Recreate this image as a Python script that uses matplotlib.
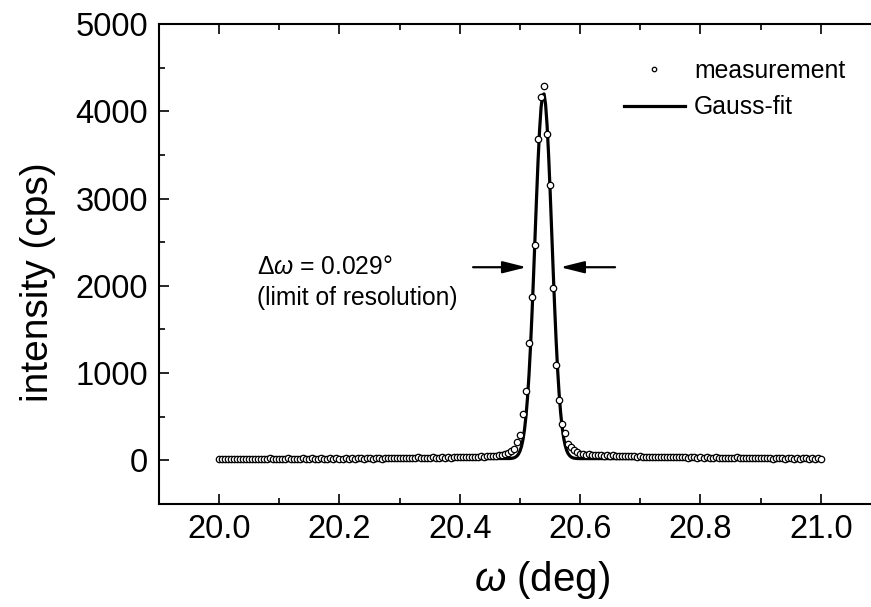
import numpy as np
import matplotlib
matplotlib.use("Agg")
import matplotlib.pyplot as plt
from matplotlib.lines import Line2D

plt.rcParams['font.family'] = ['Liberation Sans', 'DejaVu Sans']
plt.rcParams['mathtext.fontset'] = 'custom'
plt.rcParams['mathtext.rm'] = 'Liberation Sans'
plt.rcParams['mathtext.it'] = 'Liberation Sans:italic'

# ---------------- data ----------------
omega_start, omega_step = 20.0, 0.005
intensity = [
    12, 18, 10, 15, 20, 13, 17, 11, 19, 14, 16, 21, 12, 18, 15, 10, 17, 22, 14, 19,
    16, 20, 13, 24, 18, 15, 21, 17, 25, 14, 19, 23, 16, 20, 26, 18, 15, 22, 19, 24,
    21, 17, 27, 20, 23, 18, 28, 22, 19, 25, 30, 21, 24, 27, 20, 26, 23, 29, 22, 25,
    28, 24, 31, 26, 22, 29, 33, 25, 27, 32, 28, 35, 26, 30, 34, 29, 36, 31, 33, 38,
    34, 38, 33, 41, 36, 44, 39, 47, 42, 50, 46, 55, 52, 60, 66, 74, 82,
    110, 130, 210, 295, 527, 791, 1350, 1873, 2466, 3681, 4166, 4292, 3739, 3154,
    1980, 1097, 688, 421, 318, 191, 153, 115, 92,
    78, 70, 64, 72, 60, 66, 58, 62, 55, 60, 52, 57, 50, 54, 48, 52, 45, 50, 47, 43,
    46, 41, 44, 39, 43, 38, 42, 36, 40, 35, 39, 34, 37, 41, 33, 36, 31, 35, 38, 32,
    34, 30, 33, 28, 31, 35, 29, 32, 27, 30, 26, 29, 33, 27, 24, 28, 25, 30, 23, 27,
    24, 28, 22, 26, 21, 25, 29, 23, 20, 24, 27, 21, 25, 19, 23, 26, 20, 22, 18, 24, 21,
]
omega = np.round(omega_start + omega_step * np.arange(len(intensity)), 4)

fit_omega = [20.000, 20.480, 20.4825, 20.485, 20.4875, 20.490, 20.4925, 20.495, 20.4975,
             20.500, 20.5025, 20.505, 20.5075, 20.510, 20.5125, 20.515, 20.5175,
             20.520, 20.5225, 20.525, 20.5275, 20.530, 20.5325, 20.535, 20.5375,
             20.540, 20.5425, 20.545, 20.5475, 20.550, 20.5525, 20.555, 20.5575,
             20.560, 20.5625, 20.565, 20.5675, 20.570, 20.5725, 20.575, 20.5775,
             20.580, 20.5825, 20.585, 20.5875, 20.590, 20.5925, 20.595, 20.600, 21.000]
fit_intensity = [20, 21, 21, 22, 25, 29, 37, 50, 72,
                 107, 160, 240, 354, 510, 718, 984, 1308,
                 1688, 2112, 2561, 3010, 3428, 3782, 4042, 4186,
                 4199, 4081, 3842, 3505, 3097, 2652, 2201, 1770,
                 1380, 1044, 767, 548, 381, 259, 174, 115,
                 77, 54, 39, 30, 25, 23, 21, 20, 20]

xlim = (19.9, 21.1)
ylim = (-500, 5000)
xticks = [20.0, 20.2, 20.4, 20.6, 20.8, 21.0]
yticks = [0, 1000, 2000, 3000, 4000, 5000]

fwhm_label = r'$\Delta\omega$ = 0.029°'
fwhm_note = '(limit of resolution)'
arrow_y = 2213
arrow_left = (20.422, 20.511)
arrow_right = (20.658, 20.567)

# ---------------- figure ----------------
W, H = 871, 607
fig = plt.figure(figsize=(W / 100, H / 100), dpi=100)
ax = fig.add_axes([159 / W, (H - 504) / H, (881 - 159) / W, (504 - 24) / H])

ax.plot(fit_omega, fit_intensity, color='black', lw=2.3, zorder=2, label='Gauss-fit')
ax.plot(omega, intensity, linestyle='none', marker='o', markersize=4.6,
        markerfacecolor='white', markeredgecolor='black', markeredgewidth=0.9,
        zorder=3, label='measurement')

ax.set_xlim(*xlim)
ax.set_ylim(*ylim)
ax.set_xticks(xticks)
ax.set_xticklabels([f'{t:.1f}' for t in xticks])
ax.set_yticks(yticks)
ax.set_xticks(np.arange(19.9, 21.11, 0.1), minor=True)
ax.set_yticks(np.arange(-500, 5001, 500), minor=True)

ax.tick_params(which='both', direction='in', top=True, right=True, width=1.2,
               labelsize=23.5, colors='black')
ax.tick_params(which='major', length=7.5)
ax.tick_params(which='minor', length=4)
ax.tick_params(axis='y', pad=8)
ax.tick_params(axis='x', pad=7)
for s in ax.spines.values():
    s.set_linewidth(1.5)

ax.set_xlabel(r'$\omega$ (deg)', fontsize=29)
ax.set_ylabel('intensity (cps)', fontsize=28)
ax.xaxis.set_label_coords(0.530, -0.158)
ax.xaxis.label.set_va('center')
ax.yaxis.set_label_coords(-0.168, 0.4625)
ax.yaxis.label.set_va('center')

# annotation
ax.text(20.0626, arrow_y, fwhm_label, fontsize=17.7, ha='left', va='center')
ax.text(20.0626, 1860, fwhm_note, fontsize=17.7, ha='left', va='center')
for x0, x1 in (arrow_left, arrow_right):
    ax.annotate('', xy=(x1, arrow_y), xytext=(x0, arrow_y),
                arrowprops=dict(arrowstyle='-|>,head_length=0.8,head_width=0.2',
                                lw=1.6, color='black', mutation_scale=18,
                                shrinkA=0, shrinkB=0))

handles = [Line2D([], [], linestyle='none', marker='o', markersize=3.2,
                  markerfacecolor='white', markeredgecolor='black', markeredgewidth=0.9),
           Line2D([], [], color='black', lw=2.3)]
leg = ax.legend(handles, ['measurement', 'Gauss-fit'], loc='upper left',
                bbox_to_anchor=(624 / W, (H - 59) / H), bbox_transform=fig.transFigure,
                frameon=False, fontsize=17.8, handlelength=2.45, handletextpad=0.38,
                borderpad=0, borderaxespad=0, labelspacing=0.5)

fig.savefig('out.png', dpi=100)
